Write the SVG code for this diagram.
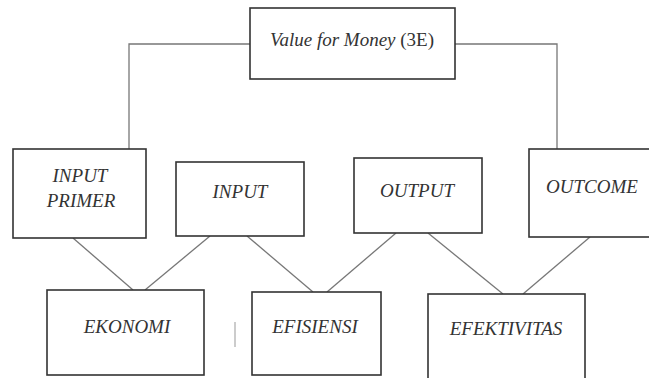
<svg xmlns="http://www.w3.org/2000/svg" width="649" height="378" viewBox="0 0 649 378">
<style>
.box{fill:#fff;stroke:#333;stroke-width:1.6}
.t{font-family:"Liberation Serif","DejaVu Serif",Times,serif;font-style:italic;font-size:19px;fill:#333;text-anchor:middle}
.c{fill:none;stroke:#777;stroke-width:1.3}
</style>
<rect width="649" height="378" fill="#fff"/>
<g id="connectors">
<polyline class="c" points="250,44 129,44 129,149"/>
<polyline class="c" points="455,44 557,44 557,149"/>
<line class="c" x1="73" y1="238" x2="133" y2="290"/>
<line class="c" x1="210" y1="236" x2="145" y2="290"/>
<line class="c" x1="247" y1="236" x2="313" y2="292"/>
<line class="c" x1="396" y1="233" x2="327" y2="292"/>
<line class="c" x1="428" y1="233" x2="503" y2="294"/>
<line class="c" x1="590" y1="237" x2="523" y2="294"/>
</g>
<g id="value-for-money">
<rect class="box" x="250" y="8" width="205" height="71"/>
<text class="t" x="352" y="46" style="font-style:normal"><tspan style="font-style:italic">Value for Money</tspan> (3E)</text>
</g>
<g id="input-primer">
<rect class="box" x="13" y="149" width="133" height="89"/>
<text class="t" x="80" y="182">INPUT</text>
<text class="t" x="81" y="207">PRIMER</text>
</g>
<g id="input">
<rect class="box" x="176" y="162" width="128" height="74"/>
<text class="t" x="240" y="198">INPUT</text>
</g>
<g id="output">
<rect class="box" x="354" y="158" width="128" height="75"/>
<text class="t" x="417" y="197">OUTPUT</text>
</g>
<g id="outcome">
<rect class="box" x="529" y="149" width="128" height="88"/>
<text class="t" x="592" y="193">OUTCOME</text>
</g>
<g id="ekonomi">
<rect class="box" x="47" y="290" width="157" height="85"/>
<text class="t" x="127" y="333">EKONOMI</text>
</g>
<g id="efisiensi">
<rect class="box" x="252" y="292" width="129" height="83"/>
<text class="t" x="315" y="333">EFISIENSI</text>
</g>
<g id="efektivitas">
<rect class="box" x="428" y="294" width="157" height="90"/>
<text class="t" x="506" y="335">EFEKTIVITAS</text>
</g>
<line x1="235" y1="322" x2="235" y2="347" stroke="#bbb" stroke-width="1.5"/>
</svg>
